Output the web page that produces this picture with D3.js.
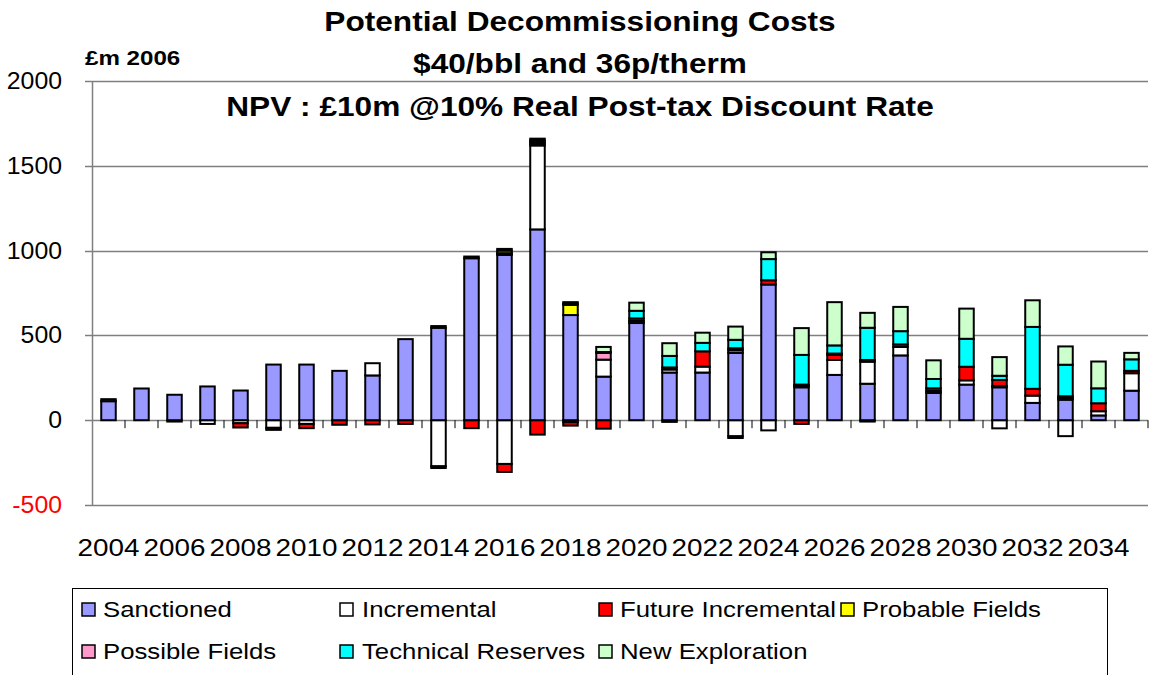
<!DOCTYPE html>
<html>
<head>
<meta charset="utf-8">
<script src="https://cdn.jsdelivr.net/npm/d3@7"></script>
<style>
  body { margin: 0; background: #fff; }
  text { font-family: Arial, "Liberation Sans", sans-serif; }
</style>
</head>
<body>
<div id="chart"></div>
<script>
// chart data, £m 2006
var years = d3.range(2004, 2036);
var yTicks = [-500, 0, 500, 1000, 1500, 2000];
var xLabels = d3.range(2004, 2035, 2);

var sanctioned = [112, 187, 150, 199, 175, 328, 328, 291, 264, 478, 545, 955, 975, 1125, 620, 257,
    573, 281, 281, 397, 800, 194, 267, 215, 382, 161, 210, 194, 102, 121, 28, 174];
var incremental = [12, 0, 0, 0, 0, 0, 0, 0, 72, 0, 10, 10, 5, 495, 0, 100,
    12, 18, 35, 15, 0, 8, 88, 130, 50, 12, 25, 8, 43, 10, 25, 103];
var futureIncremental = [0, 0, 0, 0, 0, 0, 0, 0, 0, 0, 0, 0, 5, 10, 0, 0,
    15, 12, 90, 12, 25, 8, 30, 10, 15, 15, 80, 35, 40, 10, 47, 14];
var probable = [0, 0, 0, 0, 0, 0, 0, 0, 0, 0, 0, 0, 15, 10, 60, 0,
    0, 0, 0, 0, 0, 0, 0, 0, 0, 0, 0, 0, 0, 0, 0, 0];
var possible = [0, 0, 0, 0, 0, 0, 0, 0, 0, 0, 0, 0, 10, 10, 8, 40,
    0, 0, 0, 0, 0, 0, 8, 0, 0, 0, 0, 0, 0, 0, 0, 0];
var technical = [0, 0, 0, 0, 0, 0, 0, 0, 0, 0, 0, 0, 0, 10, 8, 5,
    45, 68, 50, 50, 125, 175, 48, 190, 78, 55, 165, 25, 365, 186, 88, 68];
var newExploration = [0, 0, 0, 0, 0, 0, 0, 0, 0, 0, 0, 0, 0, 0, 0, 30,
    48, 75, 60, 78, 40, 158, 255, 88, 143, 110, 178, 110, 157, 108, 158, 38];

// negative parts
var incrementalNeg = [0, 0, -8, -22, -18, -45, -22, 0, 0, 0, -272, 0, -258, 0, -12, 0,
    0, 0, 0, -95, -60, 0, 0, 0, 0, 0, 0, -48, 0, -94, 0, 0];
var futureIncrementalNeg = [0, 0, 0, 0, -25, -12, -25, -27, -25, -22, -10, -47, -47, -85, -20, -50,
    0, -10, 0, -10, 0, -22, 0, -8, 0, 0, 0, 0, 0, 0, 0, 0];

var seriesNames = ["Sanctioned", "Incremental", "Future Incremental", "Probable Fields",
    "Possible Fields", "Technical Reserves", "New Exploration"];
var seriesColors = ["#9999FF", "#FFFFFF", "#FF0000", "#FFFF00", "#FF99CC", "#00FFFF", "#CCFFCC"];

var width = 1150, height = 675;
var margin = { top: 81, left: 92, right: 2, bottom: 170 };

var svg = d3.select("#chart")
    .append("svg")
    .attr("width", width)
    .attr("height", height);

var x = d3.scaleBand()
    .domain(years)
    .range([margin.left, width - margin.right])
    .paddingInner(0.56)
    .paddingOuter(0.28);

var y = d3.scaleLinear()
    .domain([-500, 2000])
    .range([height - margin.bottom, margin.top]);

// the original text is a little wider than Arial, so stretch it sideways
function place(sx, px, py) {
    return "translate(" + px + "," + py + ") scale(" + sx + ",1)";
}

// gridlines
svg.append("g")
    .selectAll("line")
    .data(yTicks)
    .enter()
    .append("line")
    .attr("x1", margin.left - 7)
    .attr("x2", width - margin.right)
    .attr("y1", function (d) { return Math.round(y(d)) + 0.5; })
    .attr("y2", function (d) { return Math.round(y(d)) + 0.5; })
    .style("stroke", "#7f7f7f")
    .style("stroke-width", 1.5);

// left axis line
svg.append("line")
    .attr("x1", margin.left + 0.5).attr("x2", margin.left + 0.5)
    .attr("y1", y(2000)).attr("y2", y(-500))
    .style("stroke", "#7f7f7f")
    .style("stroke-width", 1.5);

// y labels
svg.append("g")
    .selectAll("text")
    .data(yTicks)
    .enter()
    .append("text")
    .attr("transform", function (d) { return place(1.08, 62, y(d) + 8); })
    .attr("text-anchor", "end")
    .style("font-size", "23px")
    .style("fill", function (d) { return d < 0 ? "#FF0000" : "#000"; })
    .text(function (d) { return d; });

// build stacks
var posRows = years.map(function (yr, i) {
    return {
        year: yr,
        "Sanctioned": sanctioned[i],
        "Incremental": incremental[i],
        "Future Incremental": futureIncremental[i],
        "Probable Fields": probable[i],
        "Possible Fields": possible[i],
        "Technical Reserves": technical[i],
        "New Exploration": newExploration[i]
    };
});
var negRows = years.map(function (yr, i) {
    return { year: yr, "Incremental": incrementalNeg[i], "Future Incremental": futureIncrementalNeg[i] };
});

var posStack = d3.stack().keys(seriesNames)(posRows);
var negStack = d3.stack().keys(["Incremental", "Future Incremental"])
    .offset(d3.stackOffsetDiverging)(negRows);

function color(key) { return seriesColors[seriesNames.indexOf(key)]; }

function drawStack(layers) {
    svg.append("g")
        .selectAll("g")
        .data(layers)
        .enter()
        .append("g")
        .style("fill", function (d) { return color(d.key); })
        .selectAll("rect")
        .data(function (d) { return d.filter(function (p) { return p[1] !== p[0]; }); })
        .enter()
        .append("rect")
        .attr("x", function (d) { return x(d.data.year); })
        .attr("width", x.bandwidth())
        .attr("y", function (d) { return y(Math.max(d[0], d[1])); })
        .attr("height", function (d) { return Math.abs(y(d[0]) - y(d[1])); })
        .style("stroke", "#000")
        .style("stroke-width", 2);
}
drawStack(negStack);
drawStack(posStack);

// tick marks on zero line
svg.append("g")
    .selectAll("line")
    .data(d3.range(1, years.length + 1))
    .enter()
    .append("line")
    .attr("x1", function (k) { return margin.left + k * x.step(); })
    .attr("x2", function (k) { return margin.left + k * x.step(); })
    .attr("y1", y(0))
    .attr("y2", y(0) + 8)
    .style("stroke", "#000")
    .style("stroke-width", 1);

// x labels
svg.append("g")
    .selectAll("text")
    .data(xLabels)
    .enter()
    .append("text")
    .attr("transform", function (d) { return place(1.16, x(d) + x.bandwidth() / 2, 556); })
    .attr("text-anchor", "middle")
    .style("font-size", "24px")
    .text(function (d) { return d; });

// titles
var titles = [
    { t: "Potential Decommissioning Costs", y: 31 },
    { t: "$40/bbl and 36p/therm", y: 73 },
    { t: "NPV : £10m @10% Real Post-tax Discount Rate", y: 116 }
];
svg.selectAll(".title")
    .data(titles)
    .enter()
    .append("text")
    .attr("class", "title")
    .attr("transform", function (d) { return place(1.13, 580, d.y); })
    .attr("text-anchor", "middle")
    .style("font-size", "28px")
    .style("font-weight", "bold")
    .text(function (d) { return d.t; });

svg.append("text")
    .attr("transform", place(1.15, 85, 65))
    .style("font-size", "21px")
    .style("font-weight", "bold")
    .text("£m 2006");

// legend
svg.append("rect")
    .attr("x", 72.5).attr("y", 588.5)
    .attr("width", 1035).attr("height", 100)
    .style("fill", "none")
    .style("stroke", "#000")
    .style("stroke-width", 1);

var swatchX = [82, 340, 599, 841, 82, 340, 599];
var labelX = [103, 362, 620, 862, 103, 362, 620];
var legend = svg.append("g")
    .selectAll("g")
    .data(seriesNames)
    .enter()
    .append("g");
legend.append("rect")
    .attr("x", function (d, i) { return swatchX[i]; })
    .attr("y", function (d, i) { return (i < 4 ? 609 : 651) - 6; })
    .attr("width", 13).attr("height", 13)
    .style("fill", function (d) { return color(d); })
    .style("stroke", "#000")
    .style("stroke-width", 1.5);
legend.append("text")
    .attr("transform", function (d, i) { return place(1.12, labelX[i], (i < 4 ? 609 : 651) + 8); })
    .style("font-size", "23px")
    .text(function (d) { return d; });
</script>
</body>
</html>
